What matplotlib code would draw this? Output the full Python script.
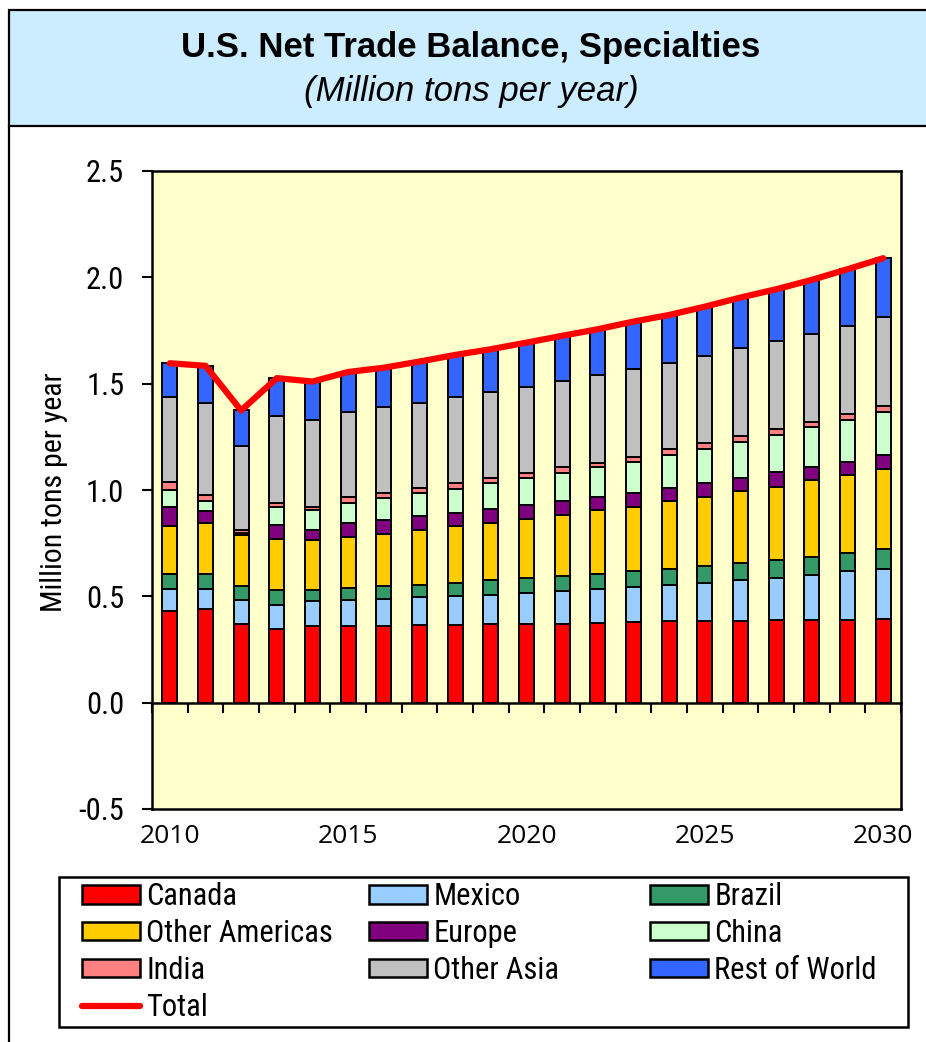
import matplotlib
matplotlib.use("Agg")
import matplotlib.pyplot as plt
import numpy as np
from matplotlib import font_manager
from matplotlib.patches import Rectangle, Patch
from matplotlib.lines import Line2D

COND = ("condensed", "semi-condensed", "extra-condensed", "ultra-condensed")


def _has(name, condensed):
    for f in font_manager.fontManager.ttflist:
        if f.name != name:
            continue
        st = f.stretch
        if not condensed:
            return True
        if isinstance(st, str) and st in COND:
            return True
        if isinstance(st, (int, float)) and st <= 400:
            return True
    return False


NARROW, NSTRETCH = "DejaVu Sans", "condensed"
for nm, cond in [("Liberation Sans Narrow", False), ("Roboto Condensed", False),
                 ("Noto Sans", True), ("Open Sans", True), ("Roboto", True)]:
    if _has(nm, cond):
        NARROW, NSTRETCH = nm, ("condensed" if cond else "normal")
        break
YEARFONT = "Open Sans" if _has("Open Sans", False) else "DejaVu Sans"

years = list(range(2010, 2031))
year_labels = ["2010", "2015", "2020", "2025", "2030"]

canada = [0.430, 0.440, 0.371, 0.346, 0.359, 0.359, 0.362, 0.367, 0.367, 0.370, 0.370,
          0.371, 0.375, 0.377, 0.382, 0.382, 0.385, 0.387, 0.387, 0.390, 0.393]
mexico = [0.105, 0.094, 0.110, 0.111, 0.117, 0.125, 0.125, 0.128, 0.136, 0.138, 0.148,
          0.155, 0.159, 0.167, 0.173, 0.183, 0.190, 0.199, 0.215, 0.227, 0.235]
brazil = [0.072, 0.072, 0.069, 0.071, 0.055, 0.055, 0.060, 0.060, 0.062, 0.070, 0.068,
          0.071, 0.072, 0.073, 0.075, 0.079, 0.081, 0.083, 0.082, 0.086, 0.094]
other_americas = [0.223, 0.238, 0.239, 0.241, 0.235, 0.238, 0.247, 0.255, 0.264, 0.266, 0.277,
                  0.286, 0.298, 0.305, 0.316, 0.325, 0.337, 0.347, 0.361, 0.368, 0.376]
europe = [0.089, 0.055, 0.005, 0.067, 0.044, 0.067, 0.066, 0.069, 0.065, 0.066, 0.067,
          0.063, 0.065, 0.063, 0.063, 0.063, 0.063, 0.068, 0.063, 0.063, 0.067]
china = [0.083, 0.047, 0.005, 0.086, 0.094, 0.097, 0.102, 0.106, 0.113, 0.122, 0.126,
         0.136, 0.139, 0.149, 0.156, 0.163, 0.172, 0.175, 0.188, 0.196, 0.204]
india = [0.036, 0.031, 0.011, 0.019, 0.018, 0.026, 0.023, 0.024, 0.025, 0.024, 0.023,
         0.024, 0.021, 0.023, 0.027, 0.025, 0.024, 0.027, 0.026, 0.028, 0.027]
other_asia = [0.399, 0.434, 0.399, 0.408, 0.405, 0.399, 0.405, 0.402, 0.403, 0.404, 0.405,
              0.407, 0.412, 0.411, 0.407, 0.411, 0.414, 0.414, 0.412, 0.414, 0.416]
rest_of_world = [0.160, 0.173, 0.165, 0.177, 0.183, 0.189, 0.185, 0.193, 0.200, 0.202, 0.209,
                 0.212, 0.215, 0.224, 0.224, 0.231, 0.239, 0.244, 0.254, 0.266, 0.278]
total = [1.596, 1.584, 1.374, 1.526, 1.510, 1.555, 1.575, 1.604, 1.635, 1.662, 1.693,
         1.725, 1.756, 1.792, 1.823, 1.862, 1.905, 1.944, 1.988, 2.038, 2.090]

series_names = ["Canada", "Mexico", "Brazil", "Other Americas", "Europe",
                "China", "India", "Other Asia", "Rest of World"]
series_values = [canada, mexico, brazil, other_americas, europe, china, india,
                 other_asia, rest_of_world]
series_colors = ["#FF0000", "#99CCFF", "#339966", "#FFCC00", "#800080",
                 "#CCFFCC", "#FF8080", "#C0C0C0", "#3366FF"]

W, H = 926, 1042
fig = plt.figure(figsize=(W / 100, H / 100), dpi=100)
fig.patch.set_facecolor("white")


def fx(px):
    return px / W


def fy(py):
    return 1 - py / H


# Title box and outer frame
fig.patches.append(Rectangle((fx(9), fy(126)), fx(940) - fx(9), fy(10) - fy(126),
                             transform=fig.transFigure, facecolor="#CCECFF",
                             edgecolor="black", lw=1.6, zorder=0))
fig.add_artist(Line2D([fx(9), fx(9)], [fy(126), fy(1050)], transform=fig.transFigure,
                      color="black", lw=1.6))
fig.text(fx(471), fy(48), "U.S. Net Trade Balance, Specialties", ha="center", va="center",
         fontsize=25, fontweight="bold", family="Liberation Sans")
fig.text(fx(471), fy(91), "(Million tons per year)", ha="center", va="center",
         fontsize=25, style="italic", family="Liberation Sans")

ax = fig.add_axes([fx(152), fy(809), fx(901) - fx(152), fy(171) - fy(809)])
ax.set_facecolor("#FFFFCC")
x = np.arange(len(years))
bottom = np.zeros(len(years))
handles = []
for name, vals, col in zip(series_names, series_values, series_colors):
    v = np.array(vals)
    ax.bar(x, v, width=0.42, bottom=bottom, color=col, edgecolor="black", lw=1.4, zorder=2)
    bottom += v
    handles.append(Patch(facecolor=col, edgecolor="black", lw=1.8, label=name))
ax.plot(x, total, color="#FF0000", lw=4.5, solid_capstyle="round", zorder=3)
handles.append(Line2D([0], [0], color="#FF0000", lw=4.5, solid_capstyle="round", label="Total"))

ax.set_xlim(-0.5, len(years) - 0.5)
ax.set_ylim(-0.5, 2.5)
yt = np.arange(-0.5, 2.51, 0.5)
ax.set_yticks(yt)
ax.set_yticklabels([f"{v:.1f}" for v in yt])
ax.tick_params(axis="y", direction="out", length=7, width=1.5, pad=13, labelsize=22)
for lab in ax.get_yticklabels():
    lab.set_family(NARROW)
    lab.set_stretch(NSTRETCH)
ax.set_xticks([years.index(int(y)) for y in year_labels])
ax.set_xticklabels(year_labels)
ax.tick_params(axis="x", length=0, pad=11, labelsize=19)
for lab in ax.get_xticklabels():
    lab.set_family(YEARFONT)
for s in ax.spines.values():
    s.set_linewidth(1.8)

# zero category axis with boundary ticks
sec = ax.secondary_xaxis(0.5 / 3.0)
sec.set_xticks(np.arange(-0.5, len(years), 1.0))
sec.tick_params(axis="x", direction="out", length=7, width=1.5, labelbottom=False)
sec.spines["bottom"].set_linewidth(1.8)

fig.text(fx(54), fy(492), "Million tons per year", rotation=90, ha="center", va="center",
         fontsize=21.5, family=NARROW, stretch=NSTRETCH)

# Legend
fig.patches.append(Rectangle((fx(59), fy(1027)), fx(908) - fx(59), fy(877) - fy(1027),
                             transform=fig.transFigure, facecolor="white",
                             edgecolor="black", lw=1.8, zorder=0))
order = [[0, 3, 6, 9], [1, 4, 7], [2, 5, 8]]
col_x = [82, 369, 650]
for cols, cx in zip(order, col_x):
    fig.legend([handles[i] for i in cols], [handles[i].get_label() for i in cols],
               loc="upper left", bbox_to_anchor=(fx(cx), fy(882)),
               frameon=False, borderpad=0, borderaxespad=0,
               handlelength=1.9, handleheight=0.56, handletextpad=0.2,
               labelspacing=0.26,
               prop={"family": NARROW, "size": 22, "stretch": NSTRETCH})

fig.savefig("out.png", dpi=100, facecolor="white")
